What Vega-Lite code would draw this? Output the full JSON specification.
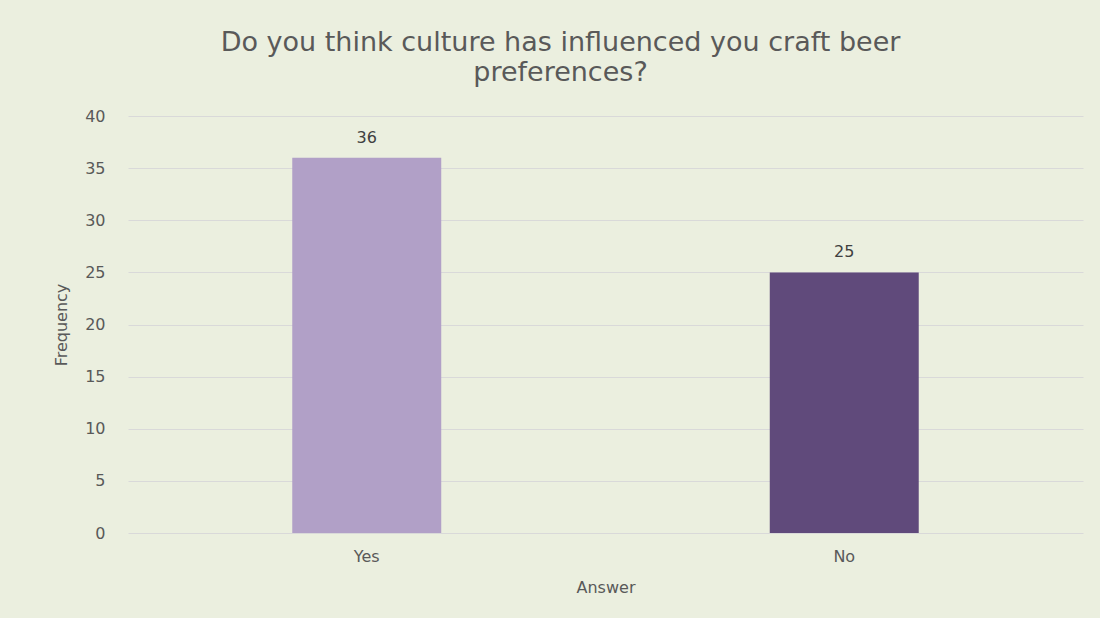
{
  "$schema": "https://vega.github.io/schema/vega-lite/v6.json",
  "autosize": {"type": "none"},
  "width": 955,
  "height": 417,
  "padding": {"left": 128, "top": 116, "right": 17, "bottom": 85},
  "background": "#EBEFDF",
  "title": {
    "text": ["Do you think culture has influenced you craft beer", "preferences?"],
    "anchor": "middle",
    "frame": "group",
    "dx": -45,
    "offset": 21,
    "font": "DejaVu Sans",
    "fontSize": 27,
    "fontWeight": "normal",
    "color": "#595959",
    "lineHeight": 30
  },
  "data": {
    "values": [
      {"Answer": "Yes", "Frequency": 36},
      {"Answer": "No", "Frequency": 25}
    ]
  },
  "encoding": {
    "x": {
      "field": "Answer",
      "type": "nominal",
      "sort": ["Yes", "No"],
      "scale": {"paddingInner": 0.688, "paddingOuter": 0.344},
      "axis": {
        "labelAngle": 0,
        "domain": false,
        "ticks": false,
        "labelPadding": 15,
        "labelFont": "DejaVu Sans",
        "labelFontSize": 16,
        "labelColor": "#595959",
        "titleFont": "DejaVu Sans",
        "titleFontSize": 16,
        "titleFontWeight": "normal",
        "titleColor": "#595959",
        "titlePadding": 15
      }
    },
    "y": {
      "field": "Frequency",
      "type": "quantitative",
      "scale": {"domain": [0, 40]},
      "axis": {
        "values": [0, 5, 10, 15, 20, 25, 30, 35, 40],
        "domain": false,
        "ticks": false,
        "labelPadding": 23,
        "labelFont": "DejaVu Sans",
        "labelFontSize": 16,
        "labelColor": "#595959",
        "gridColor": "#D9D9D9",
        "gridWidth": 1,
        "titleFont": "DejaVu Sans",
        "titleFontSize": 16,
        "titleFontWeight": "normal",
        "titleColor": "#595959",
        "titlePadding": 15
      }
    }
  },
  "layer": [
    {
      "mark": {"type": "bar"},
      "encoding": {
        "color": {
          "field": "Answer",
          "type": "nominal",
          "scale": {"domain": ["Yes", "No"], "range": ["#B1A0C7", "#604A7B"]},
          "legend": null
        }
      }
    },
    {
      "mark": {"type": "text", "baseline": "bottom", "dy": -12, "font": "DejaVu Sans", "fontSize": 16, "color": "#404040"},
      "encoding": {"text": {"field": "Frequency", "type": "quantitative"}}
    }
  ],
  "config": {"view": {"stroke": null}}
}
